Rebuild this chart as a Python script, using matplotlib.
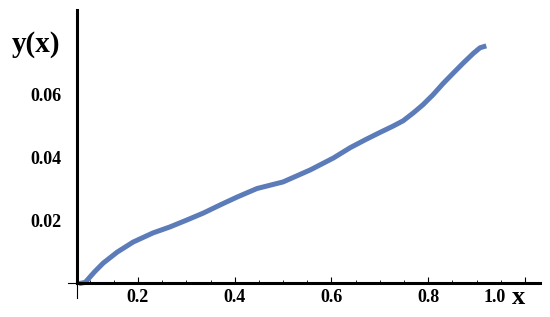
import matplotlib
matplotlib.use("Agg")
import matplotlib.pyplot as plt
import matplotlib.transforms as mtransforms

# values
x_vals = [0.078, 0.091, 0.110, 0.128, 0.157, 0.190, 0.231, 0.266, 0.301, 0.335,
          0.370, 0.405, 0.446, 0.500, 0.556, 0.604, 0.639, 0.670, 0.700, 0.727,
          0.748, 0.769, 0.789, 0.810, 0.831, 0.852, 0.872, 0.893, 0.907, 0.920]
y_vals = [-0.0002, 0.0002, 0.0035, 0.0063, 0.0098, 0.0130, 0.0159, 0.0178, 0.0200, 0.0222,
          0.0248, 0.0273, 0.0300, 0.0321, 0.0359, 0.0397, 0.0430, 0.0455, 0.0478, 0.0498,
          0.0515, 0.0540, 0.0566, 0.0598, 0.0634, 0.0667, 0.0698, 0.0729, 0.0747, 0.0753]

xticks = [0.2, 0.4, 0.6, 0.8, 1.0]
xtick_labels = ["0.2", "0.4", "0.6", "0.8", "1.0"]
yticks = [0.02, 0.04, 0.06]
ytick_labels = ["0.02", "0.04", "0.06"]

plt.rcParams["font.family"] = ["Liberation Serif", "DejaVu Serif"]

fig = plt.figure(figsize=(5.5, 3.17), dpi=100)
ax = fig.add_axes([77 / 550, 34 / 317, 463 / 550, 273 / 317])

ax.plot(x_vals, y_vals, color="#5b7cb9", lw=3.6, solid_capstyle="butt",
        solid_joinstyle="round", clip_on=False)

ax.set_xlim(0.074, 1.031)
ax.set_ylim(0, 0.0867)

for s in ["top", "right"]:
    ax.spines[s].set_visible(False)
for s in ["left", "bottom"]:
    ax.spines[s].set_linewidth(2.2)

# small extensions of the axes past the origin
ax.plot([0, 0], [0, -0.055], transform=ax.transAxes, color="black", lw=0.8, clip_on=False)
ax.plot([0, -0.02], [0, 0], transform=ax.transAxes, color="black", lw=0.8, clip_on=False)

ax.set_xticks(xticks)
ax.set_xticklabels(xtick_labels, fontweight="bold", fontsize=13)
ax.set_xticks([0.1, 0.15, 0.25, 0.3, 0.35, 0.45, 0.5, 0.55, 0.65, 0.7, 0.75, 0.85, 0.9, 0.95], minor=True)
ax.tick_params(axis="x", which="major", direction="in", length=4, width=0.8, pad=4)
ax.tick_params(axis="x", which="minor", direction="in", length=2.5, width=0.6)

ax.set_yticks(yticks)
ax.set_yticklabels(ytick_labels, fontweight="bold", fontsize=13)
ax.tick_params(axis="y", length=0, pad=11)

# the 1.0 label sits left of its tick in the reference
lbl = ax.get_xticklabels()[-1]
lbl.set_transform(lbl.get_transform() + mtransforms.ScaledTranslation(-0.3, 0, fig.dpi_scale_trans))

fig.text(36 / 550, 1 - 44 / 317, "y(x)", fontsize=21, fontweight="bold", ha="center", va="center")
fig.text(519 / 550, 1 - 297 / 317, "x", fontsize=19, fontweight="bold", ha="center", va="center")

fig.savefig("out.png", dpi=100)
